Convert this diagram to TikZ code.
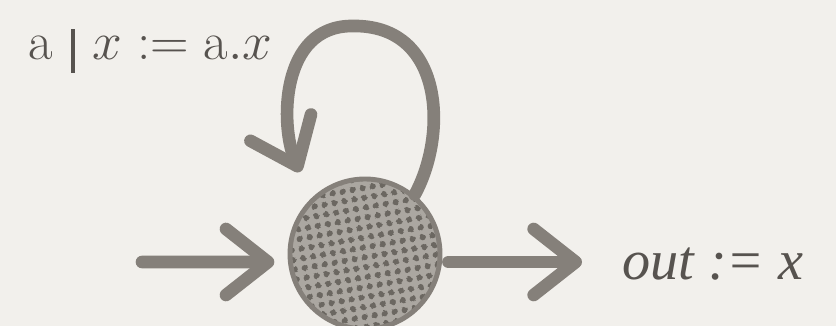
\RequirePackage{fix-cm}
\documentclass[tikz,border=0pt]{standalone}
\usepackage{amsmath}
\usepackage{fontspec}
\usepackage{tikz}
\usetikzlibrary{arrows.meta, positioning, patterns.meta}
\newfontfamily\labelfont{Liberation Serif}
\definecolor{autoPaper}{HTML}{F2F0EC}
\definecolor{autoInk}{HTML}{85807A}
\definecolor{autoText}{HTML}{57534F}
\definecolor{autoFill}{HTML}{ABA7A1}
\definecolor{autoDots}{HTML}{6B6761}
\tikzdeclarepattern{
  name=halftone, type=uncolored,
  bounding box={(0pt,0pt) and (7pt,7pt)},
  tile size={(7pt,7pt)},
  tile transformation={rotate=10},
  code={\fill (3.5pt,3.5pt) circle (2.3pt);}
}

\begin{document}
\begin{tikzpicture}[
  state/.style={circle, draw=autoInk, line width=3.5pt, minimum size=3.75cm, inner sep=0pt,
                preaction={fill=autoFill}, pattern=halftone, pattern color=autoDots},
  brush/.style={draw=autoInk, line width=9pt, line cap=round,
                -{Straight Barb[length=1.05cm, width=1.65cm, line width=9pt, round]}},
  lbl/.style={text=autoText, inner sep=0pt},
]
  \fill[autoPaper] (0,0) rectangle (20.9,8.15);
  \useasboundingbox (0,0) rectangle (20.9,8.15);

  \node[state] (q) at (9.125,1.8) {};
  \coordinate (in) at (3.55,1.6);
  \node[lbl, anchor=base west, font=\fontsize{40}{46}\labelfont\itshape] (out) at (15.55,1.15) {out := x};
  \node[lbl, anchor=base west, font=\fontsize{38}{44}\selectfont] (act) at (0.7,6.65)
    {$\mathrm{a}\mkern6mu\rule[-9pt]{3pt}{31pt}\mkern6mu x \mathrel{:=} \mathrm{a}.x$};

  \draw[brush, shorten >=0.33cm] (in) -- ([yshift=-2mm]q.west);
  \draw[brush, shorten <=0.15cm, shorten >=1cm] ([yshift=-2mm]q.east) -- ([yshift=-2mm]q.east -| out.west);
  \draw[brush] (q.50) .. controls (11.2,4.8) and (11.1,7.55) .. (8.8,7.5)
    .. controls (7.0,7.5) and (7.0,5.0) .. (7.5,3.85);
\end{tikzpicture}
\end{document}
